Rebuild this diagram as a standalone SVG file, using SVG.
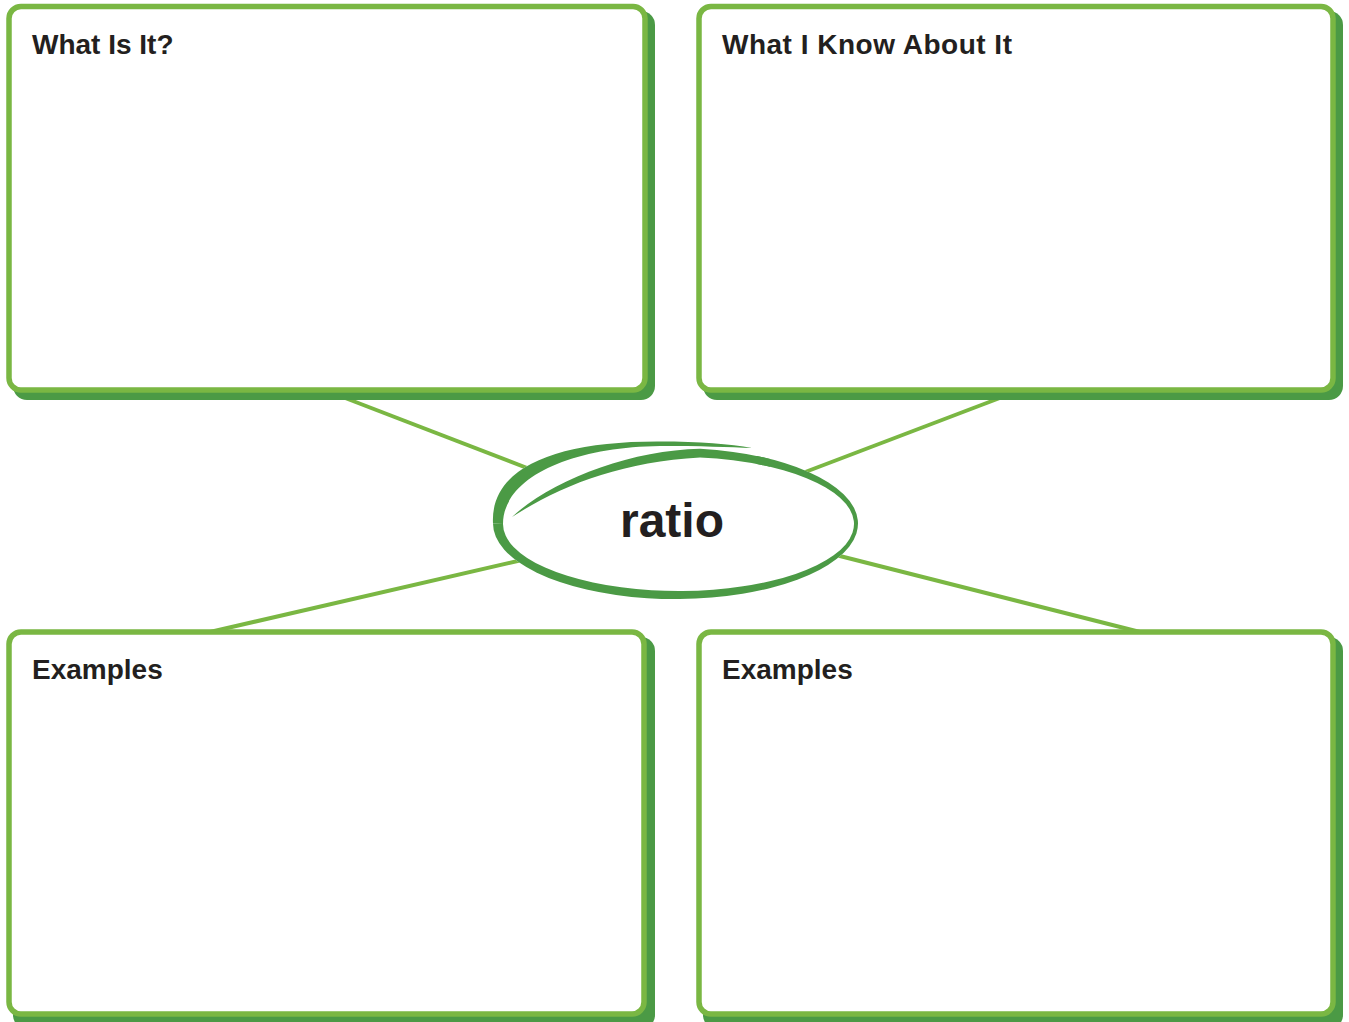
<svg xmlns="http://www.w3.org/2000/svg" width="1349" height="1022" viewBox="0 0 1349 1022">
  <style>
    .shadow { fill: #4b9a45; }
    .card { fill: #ffffff; stroke: #7ab743; stroke-width: 5.5; }
    .link { stroke: #7ab743; stroke-width: 4; fill: none; }
    .label { font-family: "Liberation Sans", Arial, sans-serif; font-weight: bold; font-size: 28px; fill: #231f20; }
    .word { font-family: "Liberation Sans", Arial, sans-serif; font-weight: bold; font-size: 48px; fill: #231f20; }
    .ink { fill: #4b9a45; }
  </style>
  <rect width="1349" height="1022" fill="#ffffff"/>

  <g id="connectors">
    <line class="link" x1="340" y1="396" x2="540" y2="473"/>
    <line class="link" x1="1005" y1="396" x2="800" y2="474"/>
    <line class="link" x1="210" y1="632" x2="522" y2="560"/>
    <line class="link" x1="1140" y1="632" x2="832" y2="554"/>
  </g>

  <g id="what-is-it">
    <rect class="shadow" x="13" y="11" width="642" height="389" rx="14"/>
    <rect class="card" x="9" y="6.5" width="636" height="383.5" rx="12"/>
    <text class="label" x="32" y="54">What Is It?</text>
  </g>

  <g id="what-i-know">
    <rect class="shadow" x="703" y="11" width="640" height="389" rx="14"/>
    <rect class="card" x="699" y="6.5" width="634" height="383.5" rx="12"/>
    <text class="label" x="722" y="54" letter-spacing="0.5">What I Know About It</text>
  </g>

  <g id="examples-left">
    <rect class="shadow" x="13" y="637" width="642" height="392" rx="14"/>
    <rect class="card" x="9" y="632" width="635" height="382" rx="12"/>
    <text class="label" x="32" y="679">Examples</text>
  </g>

  <g id="examples-right">
    <rect class="shadow" x="703" y="637" width="640" height="392" rx="14"/>
    <rect class="card" x="699" y="632" width="634" height="382" rx="12"/>
    <text class="label" x="722" y="679">Examples</text>
  </g>

  <g id="ratio">
    <!-- white interior hides the connector ends -->
    <path d="M493,523.5 C490,468 555,441 660,441.5 C700,441.5 730,444 757,456 A182.5 75.5 0 1 1 493,523.5 Z" fill="#ffffff"/>
    <!-- brush loop: right, bottom and left sides, heavier at the bottom-left -->
    <path class="ink" d="M757,456 A182.5 75.5 0 1 1 493,523.5 L503,524 A175.5 67 0 1 0 757,464.1 Z"/>
    <!-- upper-left arc thinning out over the top -->
    <path class="ink" d="M493,523.5 C490,468 555,441 660,441.5 C700,441.5 730,444 752,448 C730,447 700,446 660,446 C570,447 503,478 503,524 Z"/>
    <!-- tapered inner swoosh running into the loop -->
    <path class="ink" d="M512,517 C550,481 630,450 700,448.7 A182.5 75.5 0 0 1 770,458.9 L770,466.8 A175.5 67 0 0 0 700,457.5 C620,462 560,486 512,517 Z"/>
    <text class="word" x="672" y="537" text-anchor="middle">ratio</text>
  </g>
</svg>
